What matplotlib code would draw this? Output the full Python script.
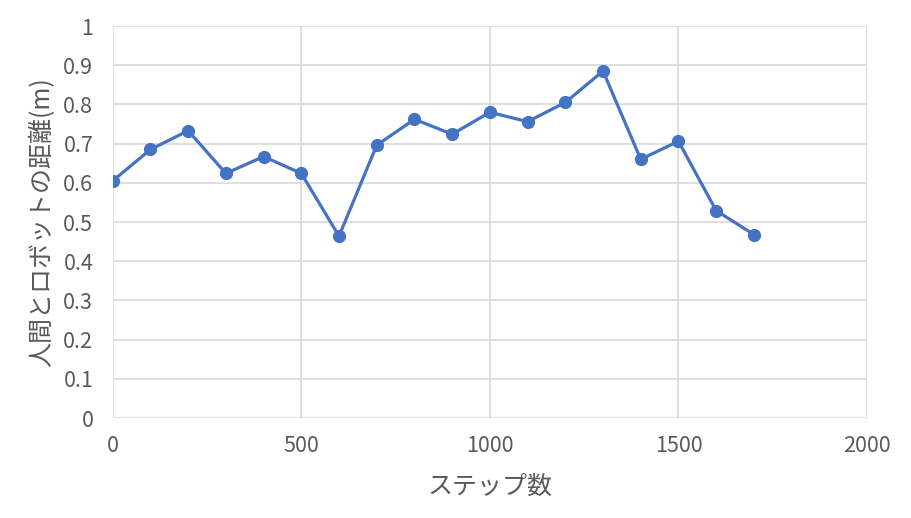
import matplotlib.pyplot as plt
import numpy as np

plt.rcParams['font.family'] = ['Noto Sans CJK JP', 'DejaVu Sans']

steps = [0, 100, 200, 300, 400, 500, 600, 700, 800, 900,
         1000, 1100, 1200, 1300, 1400, 1500, 1600, 1700]
distance = [0.605, 0.685, 0.733, 0.624, 0.667, 0.624, 0.464, 0.696, 0.762, 0.724,
            0.780, 0.756, 0.805, 0.885, 0.660, 0.706, 0.529, 0.468]

x_ticks = [0, 500, 1000, 1500, 2000]
y_ticks = [0, 0.1, 0.2, 0.3, 0.4, 0.5, 0.6, 0.7, 0.8, 0.9, 1]
y_tick_labels = ['0', '0.1', '0.2', '0.3', '0.4', '0.5', '0.6', '0.7', '0.8', '0.9', '1']

fig = plt.figure(figsize=(9.12, 5.18), dpi=100)
ax = fig.add_axes([0.1236, 0.193, 0.8271, 0.7568])

ax.plot(steps, distance, color='#4472C4', linewidth=2.3,
        marker='o', markersize=8.5, zorder=3)

ax.set_xlim(0, 2000)
ax.set_ylim(0, 1)
ax.set_xticks(x_ticks)
ax.set_yticks(y_ticks)
ax.set_yticklabels(y_tick_labels)

ax.grid(True, color='#d9d9d9', linewidth=1.2)
ax.set_axisbelow(True)
for s in ax.spines.values():
    s.set_visible(False)
ax.tick_params(length=0, labelsize=15.5, labelcolor='#595959')
ax.tick_params(axis='y', pad=14)
ax.tick_params(axis='x', pad=12)

ax.set_xlabel('ステップ数', fontsize=18, color='#595959', labelpad=12)
ax.set_ylabel('人間とロボットの距離(m)', fontsize=18, color='#595959', labelpad=6)

fig.savefig('out.png', dpi=100)
